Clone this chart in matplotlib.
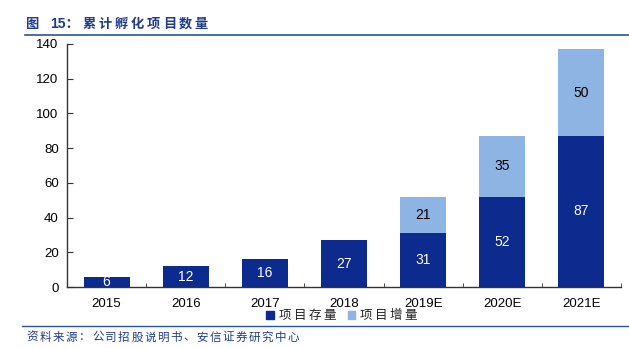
import matplotlib
matplotlib.use("Agg")
import matplotlib.pyplot as plt
from matplotlib.lines import Line2D
from matplotlib.patches import Patch
import numpy as np

plt.rcParams['font.family'] = ['Liberation Sans', 'Noto Sans CJK SC', 'DejaVu Sans']

categories = ["2015", "2016", "2017", "2018", "2019E", "2020E", "2021E"]
stock = [6, 12, 16, 27, 31, 52, 87]
increase = [None, None, None, None, 21, 35, 50]
series_names = ["项目存量", "项目增量"]
title_prefix = "图"
title_num = "15："
title_body = "累计孵化项目数量"
source = "资料来源：公司招股说明书、安信证券研究中心"

dark = "#0D2A8F"
light = "#8DB4E2"
navy = "#1F3C88"
W, H = 629, 348
CJK = ['Noto Sans CJK SC', 'DejaVu Sans']

fig = plt.figure(figsize=(W/100, H/100), dpi=100)
ax = fig.add_axes([67/W, (H-287)/H, (621-67)/W, (287-44)/H])

x = np.arange(len(categories))
w = 0.58
inc_vals = [v if v is not None else 0 for v in increase]
ax.bar(x, stock, width=w, color=dark, zorder=2)
ax.bar(x, inc_vals, width=w, bottom=stock, color=light, zorder=2)

for i, v in enumerate(stock):
    ax.text(x[i], v/2, str(v), ha='center', va='center', color='white', fontsize=10)
for i, v in enumerate(increase):
    if v is not None:
        ax.text(x[i], stock[i] + v/2, str(v), ha='center', va='center', color='black', fontsize=10)

ax.set_xlim(-0.5, len(categories) - 0.5)
ax.set_ylim(0, 140)
ax.set_yticks(range(0, 141, 20))
ax.set_xticks(x)
ax.set_xticklabels(categories)
ax.set_xticks(np.arange(-0.5, len(categories), 1), minor=True)
ax.tick_params(axis='x', which='major', length=0, labelsize=9.5, pad=8)
ax.tick_params(axis='x', which='minor', direction='in', length=3, color='#333333')
ax.tick_params(axis='y', direction='in', length=4, labelsize=9.5, pad=6, color='#333333')
for s in ['top', 'right']:
    ax.spines[s].set_visible(False)
for s in ['left', 'bottom']:
    ax.spines[s].set_color('#333333')
    ax.spines[s].set_linewidth(1.0)

spaced_names = ["\u2009".join(n) for n in series_names]
handles = [Patch(color=dark), Patch(color=light)]
fig.legend(handles, spaced_names, loc='center', bbox_to_anchor=(342/W, 1-316/H),
           ncol=2, frameon=False, handlelength=0.6, handleheight=0.6,
           handletextpad=0.4, columnspacing=0.9,
           prop={'family': CJK, 'size': 9}, labelcolor='#222222')

# title with letter spacing
ty = 1 - 24/H
fig.text(25/W, ty, title_prefix, fontsize=9.5, fontweight='bold', color=navy,
         ha='left', va='center', family=CJK)
fig.text(50/W, ty, title_num, fontsize=10, fontweight='bold', color=navy,
         ha='left', va='center', family=['Liberation Sans', 'Noto Sans CJK SC'])
for i, ch in enumerate(title_body):
    fig.text((89.5 + 16*i)/W, ty, ch, fontsize=9.5, fontweight='bold', color=navy,
             ha='center', va='center', family=CJK)

fig.add_artist(Line2D([25/W, 1.0], [1-35/H, 1-35/H], color='#2E5597', lw=1.2))
fig.add_artist(Line2D([22/W, 1.0], [1-326/H, 1-326/H], color='#2E5597', lw=1.0))

sy = 1 - 337/H
for i, ch in enumerate(source):
    fig.text((32.5 + 13.05*i)/W, sy, ch, fontsize=8.3, color=navy,
             ha='center', va='center', family=CJK)

fig.savefig("out.png", dpi=100)
